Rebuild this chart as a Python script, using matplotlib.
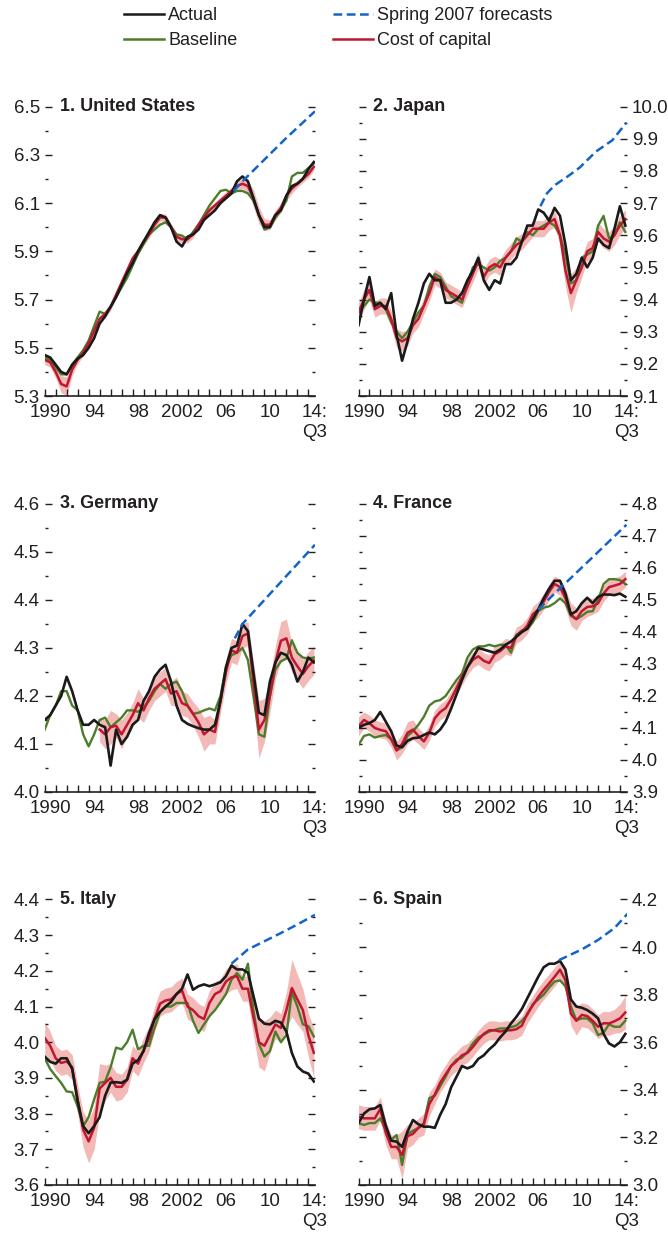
import numpy as np
import matplotlib.pyplot as plt
from matplotlib.lines import Line2D

plt.rcParams['font.family'] = ['Liberation Sans', 'DejaVu Sans']

# half-year observation dates, 1990 to 2014:Q3
years = np.arange(1990, 2014.51, 0.5)
nan = np.nan

# 1. United States
us_actual = [5.47, 5.46, 5.43, 5.40, 5.39, 5.43, 5.455, 5.47, 5.50, 5.54,
             5.60, 5.63, 5.67, 5.71, 5.76, 5.81, 5.85, 5.90, 5.94, 5.98,
             6.02, 6.05, 6.04, 6.00, 5.94, 5.92, 5.96, 5.97, 5.99, 6.03,
             6.05, 6.07, 6.10, 6.12, 6.14, 6.19, 6.21, 6.19, 6.12, 6.05,
             6.00, 6.00, 6.05, 6.07, 6.13, 6.17, 6.18, 6.20, 6.24, 6.27]
us_baseline = [5.46, 5.45, 5.42, 5.39, 5.39, 5.43, 5.46, 5.49, 5.53, 5.59,
               5.65, 5.64, 5.67, 5.71, 5.75, 5.79, 5.84, 5.89, 5.93, 5.97,
               5.99, 6.01, 6.02, 6.00, 5.97, 5.965, 5.95, 5.98, 6.01, 6.05,
               6.09, 6.12, 6.15, 6.155, 6.14, 6.15, 6.15, 6.14, 6.11, 6.05,
               5.99, 6.00, 6.04, 6.07, 6.11, 6.21, 6.225, 6.225, 6.245, 6.265]
us_cost = [5.45, 5.44, 5.40, 5.35, 5.34, 5.41, 5.45, 5.48, 5.52, 5.57,
           5.62, 5.64, 5.67, 5.72, 5.77, 5.82, 5.87, 5.90, 5.94, 5.97,
           6.01, 6.04, 6.04, 6.00, 5.96, 5.95, 5.95, 5.97, 6.01, 6.04,
           6.07, 6.09, 6.11, 6.13, 6.15, 6.17, 6.18, 6.17, 6.12, 6.05,
           6.01, 6.01, 6.05, 6.08, 6.13, 6.16, 6.18, 6.20, 6.22, 6.25]
us_band = [0.02, 0.02, 0.025, 0.035, 0.04, 0.025, 0.015, 0.015, 0.015, 0.015,
           0.015, 0.015, 0.015, 0.015, 0.015, 0.015, 0.015, 0.015, 0.015, 0.015,
           0.015, 0.015, 0.015, 0.015, 0.015, 0.015, 0.015, 0.015, 0.015, 0.015,
           0.015, 0.015, 0.015, 0.015, 0.015, 0.02, 0.02, 0.025, 0.035, 0.035,
           0.025, 0.02, 0.02, 0.02, 0.02, 0.02, 0.015, 0.015, 0.015, 0.015]
us_fc_x = [2007.2, 2008.0, 2010.0, 2012.0, 2014.6]
us_fc = [6.15, 6.19, 6.28, 6.37, 6.48]

# 2. Japan
jp_actual = [9.32, 9.40, 9.47, 9.38, 9.39, 9.37, 9.42, 9.29, 9.21, 9.27,
             9.34, 9.39, 9.45, 9.48, 9.46, 9.46, 9.39, 9.39, 9.40, 9.42,
             9.46, 9.49, 9.53, 9.46, 9.43, 9.46, 9.45, 9.51, 9.51, 9.53,
             9.58, 9.63, 9.63, 9.68, 9.67, 9.645, 9.685, 9.66, 9.57, 9.46,
             9.48, 9.53, 9.50, 9.53, 9.59, 9.57, 9.56, 9.62, 9.69, 9.63]
jp_baseline = [9.36, 9.38, 9.40, 9.39, 9.39, 9.37, 9.33, 9.30, 9.28, 9.30,
               9.33, 9.36, 9.38, 9.44, 9.48, 9.47, 9.44, 9.41, 9.40, 9.39,
               9.45, 9.50, 9.51, 9.50, 9.49, 9.50, 9.52, 9.53, 9.55, 9.59,
               9.58, 9.61, 9.60, 9.62, 9.63, 9.64, 9.63, 9.60, 9.54, 9.45,
               9.46, 9.53, 9.54, 9.55, 9.63, 9.66, 9.59, 9.60, 9.64, 9.61]
jp_cost = [9.36, 9.40, 9.43, 9.37, 9.38, 9.38, 9.34, 9.28, 9.27, 9.28,
           9.32, 9.34, 9.38, 9.42, 9.47, 9.46, 9.43, 9.42, 9.41, 9.40,
           9.44, 9.48, 9.52, 9.47, 9.50, 9.51, 9.50, 9.53, 9.55, 9.57,
           9.58, 9.60, 9.62, 9.62, 9.62, 9.64, 9.65, 9.60, 9.49, 9.42,
           9.46, 9.50, 9.55, 9.56, 9.61, 9.59, 9.58, 9.60, 9.63, 9.65]
jp_band = [0.03, 0.03, 0.03, 0.025, 0.025, 0.025, 0.025, 0.03, 0.03, 0.025,
           0.025, 0.025, 0.025, 0.025, 0.025, 0.025, 0.025, 0.025, 0.025, 0.025,
           0.025, 0.025, 0.025, 0.025, 0.025, 0.025, 0.025, 0.025, 0.025, 0.025,
           0.025, 0.025, 0.025, 0.025, 0.025, 0.025, 0.025, 0.03, 0.05, 0.06,
           0.04, 0.03, 0.03, 0.03, 0.03, 0.03, 0.03, 0.03, 0.03, 0.03]
jp_fc_x = [2006.7, 2007.3, 2008.0, 2009.3, 2010.3, 2011.8, 2013.3, 2014.6]
jp_fc = [9.69, 9.73, 9.755, 9.785, 9.81, 9.86, 9.895, 9.95]

# 3. Germany
de_actual = [4.15, 4.16, 4.18, 4.20, 4.24, 4.21, 4.17, 4.14, 4.14, 4.15,
             4.14, 4.135, 4.055, 4.13, 4.10, 4.115, 4.14, 4.15, 4.19, 4.21,
             4.24, 4.255, 4.265, 4.23, 4.18, 4.15, 4.142, 4.137, 4.133, 4.13,
             4.13, 4.14, 4.19, 4.26, 4.30, 4.305, 4.35, 4.335, 4.25, 4.165,
             4.16, 4.23, 4.27, 4.29, 4.285, 4.265, 4.23, 4.25, 4.28, 4.27]
de_baseline = [4.13, 4.16, 4.18, 4.21, 4.21, 4.18, 4.17, 4.12, 4.095, 4.12,
               4.15, 4.155, 4.135, 4.145, 4.155, 4.17, 4.17, 4.167, 4.176, 4.19,
               4.21, 4.225, 4.215, 4.225, 4.23, 4.21, 4.18, 4.163, 4.165, 4.17,
               4.174, 4.17, 4.20, 4.26, 4.285, 4.29, 4.30, 4.275, 4.20, 4.12,
               4.115, 4.20, 4.255, 4.272, 4.278, 4.316, 4.29, 4.28, 4.278, 4.28]
de_cost = [nan, nan, nan, nan, nan, nan, nan, nan, nan, nan,
           4.13, 4.12, 4.135, 4.138, 4.12, 4.14, 4.16, 4.185, 4.17, 4.195,
           4.215, 4.225, 4.235, 4.205, 4.21, 4.185, 4.18, 4.163, 4.145, 4.12,
           4.13, 4.125, 4.19, 4.25, 4.295, 4.29, 4.325, 4.33, 4.23, 4.13,
           4.15, 4.20, 4.27, 4.315, 4.32, 4.28, 4.262, 4.246, 4.262, 4.274]
de_band = [nan, nan, nan, nan, nan, nan, nan, nan, nan, nan,
           0.025, 0.03, 0.035, 0.025, 0.03, 0.025, 0.025, 0.03, 0.025, 0.025,
           0.025, 0.025, 0.025, 0.025, 0.03, 0.025, 0.025, 0.025, 0.03, 0.035,
           0.03, 0.025, 0.025, 0.025, 0.025, 0.025, 0.025, 0.025, 0.04, 0.06,
           0.045, 0.035, 0.035, 0.04, 0.04, 0.03, 0.03, 0.03, 0.03, 0.03]
de_fc_x = [2007.3, 2008.0, 2010.0, 2012.0, 2014.6]
de_fc = [4.32, 4.35, 4.40, 4.45, 4.515]

# 4. France
fr_actual = [4.10, 4.11, 4.115, 4.125, 4.15, 4.12, 4.09, 4.045, 4.04, 4.06,
             4.068, 4.07, 4.078, 4.086, 4.08, 4.095, 4.12, 4.16, 4.205, 4.25,
             4.29, 4.32, 4.35, 4.345, 4.34, 4.335, 4.345, 4.36, 4.37, 4.385,
             4.40, 4.41, 4.44, 4.47, 4.505, 4.535, 4.56, 4.56, 4.52, 4.455,
             4.465, 4.49, 4.507, 4.49, 4.51, 4.517, 4.517, 4.515, 4.52, 4.51]
fr_baseline = [4.047, 4.075, 4.08, 4.07, 4.075, 4.078, 4.065, 4.03, 4.04, 4.075,
               4.09, 4.11, 4.135, 4.17, 4.183, 4.187, 4.20, 4.225, 4.25, 4.27,
               4.32, 4.345, 4.355, 4.355, 4.36, 4.355, 4.36, 4.36, 4.335, 4.39,
               4.405, 4.41, 4.43, 4.465, 4.476, 4.48, 4.49, 4.505, 4.49, 4.45,
               4.44, 4.45, 4.463, 4.465, 4.50, 4.55, 4.565, 4.565, 4.562, 4.55]
fr_cost = [4.105, 4.125, 4.115, 4.10, 4.094, 4.09, 4.065, 4.03, 4.05, 4.085,
           4.095, 4.075, 4.058, 4.085, 4.13, 4.15, 4.162, 4.19, 4.225, 4.26,
           4.29, 4.313, 4.324, 4.31, 4.303, 4.33, 4.34, 4.355, 4.35, 4.39,
           4.40, 4.42, 4.455, 4.47, 4.495, 4.525, 4.55, 4.54, 4.505, 4.455,
           4.44, 4.465, 4.478, 4.48, 4.49, 4.52, 4.54, 4.545, 4.55, 4.565]
fr_band = [0.03, 0.025, 0.025, 0.025, 0.025, 0.025, 0.025, 0.03, 0.03, 0.035,
           0.03, 0.025, 0.025, 0.025, 0.025, 0.025, 0.025, 0.025, 0.025, 0.025,
           0.025, 0.025, 0.025, 0.025, 0.025, 0.025, 0.025, 0.025, 0.025, 0.025,
           0.025, 0.025, 0.025, 0.025, 0.025, 0.025, 0.025, 0.025, 0.03, 0.035,
           0.035, 0.03, 0.03, 0.025, 0.025, 0.025, 0.025, 0.025, 0.025, 0.025]
fr_fc_x = [2006.5, 2008.0, 2010.0, 2012.0, 2014.6]
fr_fc = [4.47, 4.52, 4.585, 4.65, 4.735]

# 5. Italy
it_actual = [3.96, 3.945, 3.94, 3.955, 3.955, 3.925, 3.835, 3.765, 3.745, 3.765,
             3.79, 3.85, 3.887, 3.888, 3.886, 3.895, 3.94, 3.95, 3.975, 4.026,
             4.065, 4.085, 4.10, 4.113, 4.135, 4.15, 4.19, 4.147, 4.157, 4.162,
             4.157, 4.162, 4.168, 4.185, 4.215, 4.204, 4.204, 4.195, 4.13, 4.066,
             4.052, 4.05, 4.06, 4.055, 4.03, 3.97, 3.932, 3.918, 3.912, 3.89]
it_baseline = [3.955, 3.925, 3.905, 3.886, 3.862, 3.86, 3.82, 3.765, 3.79, 3.84,
               3.886, 3.89, 3.93, 3.985, 3.98, 4.00, 4.035, 3.98, 3.99, 3.99,
               4.04, 4.085, 4.10, 4.10, 4.11, 4.11, 4.11, 4.06, 4.026, 4.05,
               4.073, 4.09, 4.112, 4.135, 4.175, 4.194, 4.175, 4.22, 4.09, 3.995,
               3.96, 3.975, 4.03, 4.00, 4.02, 4.14, 4.10, 4.05, 4.045, 4.016]
it_cost = [4.012, 3.99, 3.955, 3.942, 3.946, 3.93, 3.84, 3.755, 3.722, 3.76,
           3.87, 3.886, 3.90, 3.875, 3.875, 3.895, 3.955, 3.94, 3.978, 4.01,
           4.065, 4.108, 4.117, 4.12, 4.135, 4.145, 4.10, 4.09, 4.073, 4.065,
           4.11, 4.135, 4.143, 4.17, 4.182, 4.185, 4.15, 4.15, 4.07, 4.00,
           3.99, 4.02, 4.05, 4.04, 4.09, 4.152, 4.12, 4.09, 4.02, 3.97]
it_band = [0.045, 0.04, 0.035, 0.035, 0.035, 0.035, 0.04, 0.05, 0.06, 0.06,
           0.07, 0.05, 0.04, 0.04, 0.035, 0.035, 0.035, 0.035, 0.035, 0.035,
           0.035, 0.035, 0.035, 0.035, 0.035, 0.035, 0.035, 0.035, 0.035, 0.035,
           0.035, 0.035, 0.035, 0.035, 0.035, 0.035, 0.035, 0.035, 0.05, 0.07,
           0.07, 0.05, 0.04, 0.04, 0.05, 0.08, 0.07, 0.06, 0.06, 0.07]
it_fc_x = [2007.0, 2008.5, 2010.0, 2011.5, 2013.0, 2014.6]
it_fc = [4.22, 4.26, 4.283, 4.306, 4.33, 4.357]

# 6. Spain
es_actual = [3.26, 3.30, 3.318, 3.322, 3.336, 3.25, 3.186, 3.182, 3.16, 3.225,
             3.273, 3.255, 3.245, 3.245, 3.24, 3.295, 3.34, 3.41, 3.455, 3.50,
             3.49, 3.50, 3.53, 3.545, 3.57, 3.59, 3.62, 3.645, 3.679, 3.707,
             3.74, 3.785, 3.83, 3.875, 3.915, 3.93, 3.93, 3.942, 3.905, 3.78,
             3.75, 3.745, 3.735, 3.72, 3.70, 3.635, 3.595, 3.582, 3.60, 3.635]
es_baseline = [3.26, 3.252, 3.26, 3.26, 3.28, 3.23, 3.19, 3.21, 3.084, 3.215,
               3.228, 3.24, 3.26, 3.365, 3.375, 3.415, 3.455, 3.50, 3.527, 3.535,
               3.56, 3.595, 3.62, 3.632, 3.645, 3.652, 3.658, 3.658, 3.663, 3.67,
               3.69, 3.715, 3.76, 3.78, 3.80, 3.83, 3.855, 3.86, 3.835, 3.75,
               3.693, 3.70, 3.70, 3.68, 3.63, 3.64, 3.675, 3.665, 3.665, 3.69]
es_cost = [3.287, 3.28, 3.28, 3.28, 3.32, 3.22, 3.16, 3.16, 3.126, 3.205,
           3.215, 3.24, 3.255, 3.34, 3.38, 3.43, 3.465, 3.50, 3.52, 3.545,
           3.555, 3.58, 3.61, 3.635, 3.65, 3.65, 3.645, 3.65, 3.65, 3.655,
           3.67, 3.72, 3.755, 3.79, 3.82, 3.847, 3.875, 3.905, 3.86, 3.72,
           3.69, 3.715, 3.71, 3.69, 3.665, 3.68, 3.679, 3.688, 3.70, 3.725]
es_band = [0.05, 0.05, 0.05, 0.05, 0.05, 0.05, 0.05, 0.05, 0.1, 0.05,
           0.045, 0.04, 0.045, 0.05, 0.04, 0.04, 0.04, 0.04, 0.04, 0.04,
           0.04, 0.04, 0.04, 0.04, 0.04, 0.04, 0.04, 0.04, 0.04, 0.04,
           0.04, 0.04, 0.04, 0.04, 0.04, 0.04, 0.04, 0.04, 0.04, 0.05,
           0.06, 0.05, 0.05, 0.05, 0.05, 0.05, 0.05, 0.05, 0.06, 0.07]
es_fc_x = [2008.4, 2010.5, 2012.0, 2013.5, 2014.7]
es_fc = [3.945, 3.99, 4.03, 4.08, 4.14]

x_labels = ['1990', '94', '98', '2002', '06', '10', '14:\nQ3']
x_label_pos = [1990.5, 1994.5, 1998.5, 2002.5, 2006.5, 2010.5, 2014.6]

panels = [
    ('1. United States', us_actual, us_baseline, us_cost, us_band, us_fc_x, us_fc, 5.3, 6.5, 0.2),
    ('2. Japan', jp_actual, jp_baseline, jp_cost, jp_band, jp_fc_x, jp_fc, 9.1, 10.0, 0.1),
    ('3. Germany', de_actual, de_baseline, de_cost, de_band, de_fc_x, de_fc, 4.0, 4.6, 0.1),
    ('4. France', fr_actual, fr_baseline, fr_cost, fr_band, fr_fc_x, fr_fc, 3.9, 4.8, 0.1),
    ('5. Italy', it_actual, it_baseline, it_cost, it_band, it_fc_x, it_fc, 3.6, 4.4, 0.1),
    ('6. Spain', es_actual, es_baseline, es_cost, es_band, es_fc_x, es_fc, 3.0, 4.2, 0.2),
]

c_actual = '#1a1a1a'
c_base = '#4c7d2a'
c_cost = '#bf1730'
c_band = '#f3b9b7'
c_fc = '#1464c8'
c_text = '#231f20'

fig = plt.figure(figsize=(6.68, 12.4), dpi=100)

rows = [(0.6806, 0.2335), (0.3613, 0.2323), (0.0444, 0.2302)]
cols = [(0.0669, 0.4054), (0.5367, 0.4019)]

for i, (title, act, base, cost, band, fcx, fc, lo, hi, step) in enumerate(panels):
    r, c = divmod(i, 2)
    ax = fig.add_axes([cols[c][0], rows[r][0], cols[c][1], rows[r][1]])
    cost_a = np.array(cost)
    band_a = np.array(band)
    ax.fill_between(years, cost_a - band_a, cost_a + band_a, color=c_band, lw=0, zorder=1)
    ax.plot(years, base, color=c_base, lw=1.7, zorder=2)
    ax.plot(years, cost, color=c_cost, lw=1.8, zorder=3)
    ax.plot(years, act, color=c_actual, lw=1.9, zorder=4)
    ax.plot(fcx, fc, color=c_fc, lw=1.8, ls=(0, (3.5, 1.8)), zorder=5)

    ax.set_xlim(1990, 2014.65)
    ax.set_ylim(lo, hi)
    ax.set_yticks(np.round(np.arange(lo, hi + 1e-6, step), 2))
    ax.set_yticks(np.round(np.arange(lo, hi + 1e-6, step / 2), 3), minor=True)
    ax.set_yticklabels(['%.1f' % v for v in np.arange(lo, hi + 1e-6, step)])
    ax.tick_params(axis='y', which='major', direction='in', length=5, width=1,
                   left=True, right=True, labelleft=(c == 0), labelright=(c == 1),
                   labelsize=13.5, pad=3.5, colors=c_text)
    ax.tick_params(axis='y', which='minor', direction='in', length=2, width=1,
                   left=True, right=True, colors=c_text)

    ax.set_xticks(np.arange(1990, 2015))
    ax.set_xticklabels([])
    ax.set_xticks(x_label_pos, minor=True)
    ax.set_xticklabels(x_labels, minor=True)
    ax.tick_params(axis='x', which='major', direction='in', length=5, width=1, color=c_text)
    ax.tick_params(axis='x', which='minor', length=0, labelsize=13.5, pad=6, labelcolor=c_text)

    for s in ['top', 'left', 'right']:
        ax.spines[s].set_visible(False)
    ax.spines['bottom'].set_linewidth(1.2)
    ax.spines['bottom'].set_color(c_text)

    ax.text(0.055, 1.0, title, transform=ax.transAxes, ha='left', va='center',
            fontsize=13, fontweight='bold', color=c_text)

h_act = Line2D([], [], color=c_actual, lw=1.8)
h_base = Line2D([], [], color=c_base, lw=1.8)
h_fc = Line2D([], [], color=c_fc, lw=1.8, ls=(0, (3.5, 1.8)))
h_cost = Line2D([], [], color=c_cost, lw=1.8)

leg_kw = dict(loc='upper left', frameon=False, fontsize=13, handlelength=2.2,
              handletextpad=0.25, borderpad=0, borderaxespad=0, labelspacing=0.45,
              labelcolor=c_text)
fig.legend([h_act, h_base], ['Actual', 'Baseline'], bbox_to_anchor=(124 / 668, 0.9945), **leg_kw)
fig.legend([h_fc, h_cost], ['Spring 2007 forecasts', 'Cost of capital'],
           bbox_to_anchor=(333 / 668, 0.9945), **leg_kw)

fig.savefig('out.png', dpi=100)
